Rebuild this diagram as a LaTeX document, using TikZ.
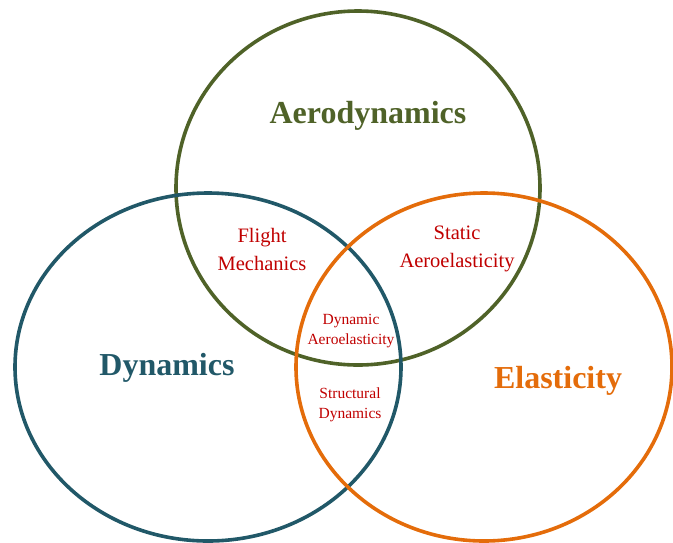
\documentclass[tikz,border=0pt]{standalone}
\usepackage{fontspec}
\setmainfont{Liberation Serif}
\definecolor{aerogreen}{HTML}{4F6228}
\definecolor{dyncolor}{HTML}{215868}
\definecolor{elacolor}{HTML}{E46C0A}
\definecolor{overlapred}{HTML}{C00000}
\begin{document}
\begin{tikzpicture}[x=1pt,y=-1pt,
  ring/.style={line width=3.6pt},
  fieldlabel/.style={font=\bfseries\fontsize{32}{36}\selectfont, inner sep=0pt},
  pairlabel/.style={text=overlapred, align=center, inner sep=0pt, font=\fontsize{20.5}{28}\selectfont},
  triplelabel/.style={text=overlapred, align=center, inner sep=0pt, font=\fontsize{15.5}{20}\selectfont}]
\useasboundingbox (0,0) rectangle (673,542);
% the three disciplines
\draw[ring, aerogreen] (358,188) ellipse [x radius=182, y radius=177];
\draw[ring, dyncolor] (208,367) ellipse [x radius=193, y radius=174];
\draw[ring, elacolor] (484,367) ellipse [x radius=188, y radius=174];
% discipline names
\node[fieldlabel, text=aerogreen] (aero) at (368,116) {Aerodynamics};
\node[fieldlabel, text=dyncolor] (dyn) at (167,368) {Dynamics};
\node[fieldlabel, text=elacolor] (ela) at (558,381) {Elasticity};
% overlaps
\node[pairlabel] (flight) at (262,249) {Flight\\Mechanics};
\node[pairlabel] (static) at (457,249) {Static\\Aeroelasticity};
\node[triplelabel] (dynaero) at (351,331) {Dynamic\\Aeroelasticity};
\node[triplelabel] (struct) at (350,405) {Structural\\Dynamics};
\end{tikzpicture}
\end{document}
